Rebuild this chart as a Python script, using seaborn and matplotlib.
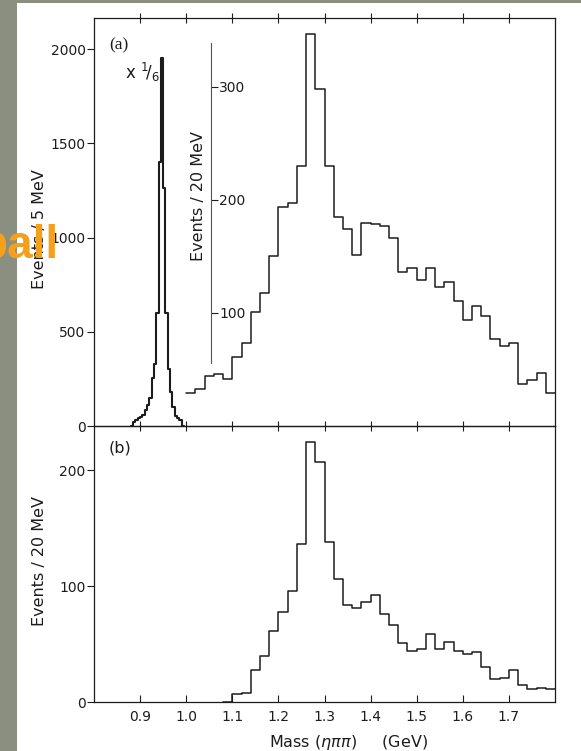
import numpy as np
import pandas as pd
import matplotlib
matplotlib.use("Agg")
import matplotlib.pyplot as plt
import seaborn as sns
from matplotlib.patches import Rectangle

# ---------------- data ----------------
# eta' peak (Events / 5 MeV, shown x 1/6), bins of 5 MeV from 0.880 to 0.995 GeV
eta_edges = [0.880, 0.885, 0.890, 0.895, 0.900, 0.905, 0.910, 0.915, 0.920, 0.925,
             0.930, 0.935, 0.940, 0.945, 0.950, 0.955, 0.960, 0.965, 0.970, 0.975,
             0.980, 0.985, 0.990, 0.995]
eta_counts = [0, 23, 30, 42, 50, 58, 85, 110, 150, 255, 330, 600, 1400, 1953, 1263,
              600, 300, 180, 100, 55, 40, 30, 0]

# panel (a): Events / 20 MeV, 1.00 .. 1.80 GeV
a_edges = [1.00, 1.02, 1.04, 1.06, 1.08, 1.10, 1.12, 1.14, 1.16, 1.18, 1.20, 1.22,
           1.24, 1.26, 1.28, 1.30, 1.32, 1.34, 1.36, 1.38, 1.40, 1.42, 1.44, 1.46,
           1.48, 1.50, 1.52, 1.54, 1.56, 1.58, 1.60, 1.62, 1.64, 1.66, 1.68, 1.70,
           1.72, 1.74, 1.76, 1.78, 1.80]
a_counts = [29, 33, 44, 46, 42, 61, 73, 101, 118, 150, 194, 197, 230, 347, 298, 230,
            185, 174, 151, 180, 179, 177, 166, 136, 140, 129, 140, 123, 127, 111,
            94, 106, 97, 77, 71, 73, 37, 41, 47, 29]

# panel (b): Events / 20 MeV, 1.08 .. 1.80 GeV
b_edges = [1.08, 1.10, 1.12, 1.14, 1.16, 1.18, 1.20, 1.22, 1.24, 1.26, 1.28, 1.30,
           1.32, 1.34, 1.36, 1.38, 1.40, 1.42, 1.44, 1.46, 1.48, 1.50, 1.52, 1.54,
           1.56, 1.58, 1.60, 1.62, 1.64, 1.66, 1.68, 1.70, 1.72, 1.74, 1.76, 1.78, 1.80]
b_counts = [0, 7, 8, 28, 40, 61, 78, 96, 136, 224, 207, 138, 106, 84, 81, 86, 92,
            76, 66, 51, 44, 46, 59, 46, 52, 44, 41, 43, 30, 20, 21, 28, 15, 11, 12, 11]

x_ticks = [0.9, 1.0, 1.1, 1.2, 1.3, 1.4, 1.5, 1.6, 1.7]
x_ticklabels = ["0.9", "1.0", "1.1", "1.2", "1.3", "1.4", "1.5", "1.6", "1.7"]
a_yticks = [0, 500, 1000, 1500, 2000]
a2_yticks = [100, 200, 300]
b_yticks = [0, 100, 200]

# ---------------- figure ----------------
sns.set_theme(style="white")
plt.rcParams['font.family'] = ['DejaVu Sans']
W, H = 581, 751
fig = plt.figure(figsize=(W / 100, H / 100), dpi=100)
fig.patch.set_facecolor("white")
fig.patches.append(Rectangle((0, 0), 17 / W, 1, transform=fig.transFigure,
                             facecolor="#8b8f80", edgecolor="none", zorder=-5))
fig.patches.append(Rectangle((0, 1 - 3 / H), 1, 3 / H, transform=fig.transFigure,
                             facecolor="#8b8f80", edgecolor="none", zorder=-5))

INK = "#1c1c1c"
L, R = 94, 555
axa = fig.add_axes([L / W, 1 - 426 / H, (R - L) / W, (426 - 18) / H])
axb = fig.add_axes([L / W, 1 - 702 / H, (R - L) / W, (702 - 426) / H])
ax2 = axa.twinx()


def hist(ax, edges, counts, lw=1.1):
    edge_list = [float(e) for e in edges]
    centers = [(edge_list[i] + edge_list[i + 1]) / 2 for i in range(len(counts))]
    df = pd.DataFrame({"m": centers, "n": counts})
    sns.histplot(data=df, x="m", weights="n", bins=edge_list, element="step",
                 fill=False, color=INK, linewidth=lw, ax=ax)


hist(axa, eta_edges, eta_counts, lw=1.5)
hist(ax2, a_edges, a_counts)
hist(axb, b_edges, b_counts)

for ax in (axa, axb):
    ax.set_xlim(0.8, 1.8)
    ax.set_facecolor("none")
    for s in ax.spines.values():
        s.set_visible(True)
        s.set_color(INK)
        s.set_linewidth(0.9)
    ax.set_xlabel("")
    ax.set_ylabel("")

axa.set_ylim(0, 2166)
ax2.set_ylim(0, 361)
axb.set_ylim(0, 238)

# panel a ticks
axa.set_xticks(x_ticks)
axa.tick_params(axis="x", which="both", top=True, bottom=True, labelbottom=False,
                direction="inout", length=7, width=0.8, color=INK)
axa.set_yticks(a_yticks)
axa.set_yticklabels([str(v) for v in a_yticks])
axa.tick_params(axis="y", left=True, right=False, direction="out", length=5,
                width=0.8, color=INK, labelsize=10, labelcolor=INK, pad=1)

# secondary inner axis
for k in ("top", "bottom", "left"):
    ax2.spines[k].set_visible(False)
ax2.spines["right"].set_position(("data", 1.054))
ax2.spines["right"].set_bounds(56, 339)
ax2.spines["right"].set_color("#555555")
ax2.spines["right"].set_linewidth(0.8)
ax2.set_yticks(a2_yticks)
ax2.set_yticklabels([str(v) for v in a2_yticks])
ax2.tick_params(axis="y", right=True, left=False, direction="out", length=5,
                width=0.8, color=INK, labelsize=10, labelcolor=INK, pad=1)
ax2.set_ylabel("")
ax2.set_xlabel("")
ax2.grid(False)

# panel b ticks
axb.set_xticks(x_ticks)
axb.set_xticklabels(x_ticklabels)
axb.tick_params(axis="x", bottom=True, top=False, direction="in", length=5,
                width=0.8, color=INK, labelsize=10, labelcolor=INK, pad=6)
axb.set_yticks(b_yticks)
axb.set_yticklabels([str(v) for v in b_yticks])
axb.tick_params(axis="y", left=True, right=False, direction="out", length=5,
                width=0.8, color=INK, labelsize=10, labelcolor=INK, pad=1)

for ax in (axa, axb, ax2):
    ax.grid(False)


def px(x, y):
    return x / W, 1 - y / H


# texts
fig.text(*px(109, 45), "(a)", family="Liberation Serif", fontsize=12.5, color=INK,
         ha="left", va="center")
fig.text(*px(109, 448), "(b)", fontsize=11.5, color=INK, ha="left", va="center")
fig.text(*px(142, 72), r"x $^1\!/_6$", fontsize=12, color=INK, ha="center", va="center")
fig.text(*px(40, 229), "Events / 5 MeV", fontsize=11.5, color=INK, rotation=90,
         ha="center", va="center")
fig.text(*px(198, 196), "Events / 20 MeV", fontsize=11.5, color=INK, rotation=90,
         ha="center", va="center")
fig.text(*px(40, 561), "Events / 20 MeV", fontsize=11.5, color=INK, rotation=90,
         ha="center", va="center")
fig.text(*px(349, 743), r"Mass ($\eta\pi\pi$)     (GeV)", fontsize=11.5, color=INK,
         ha="center", va="center")
fig.text(*px(-20, 258), "pall", family="Liberation Sans", fontweight="bold",
         fontsize=33, color="#f5a01a", ha="left", va="baseline")

fig.savefig("out.png", dpi=100, facecolor="white")
